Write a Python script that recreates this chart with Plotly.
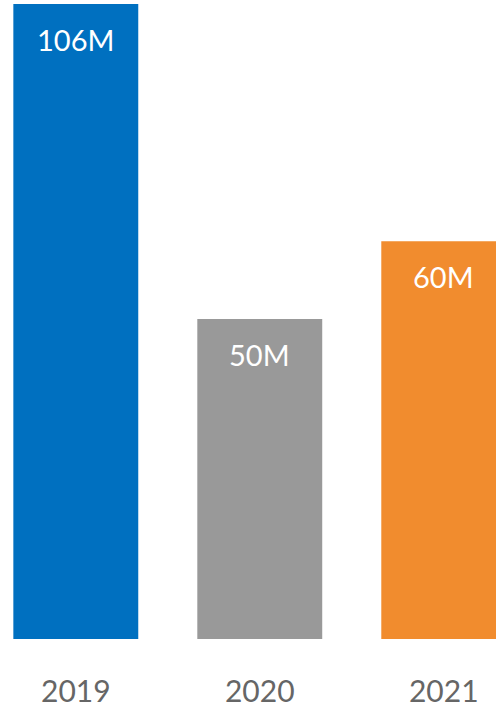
import plotly.graph_objects as go

years = ["2019", "2020", "2021"]
bar_heights = [106, 53.4, 66.4]
bar_labels = ["106M", "50M", "60M"]
bar_colors = ["#0070C0", "#999999", "#F18C2E"]

fig = go.Figure()
fig.add_trace(go.Bar(
    x=years, y=bar_heights,
    marker=dict(color=bar_colors, line=dict(width=0)),
    width=0.679,
    hoverinfo="skip",
))

for i, (h, lab) in enumerate(zip(bar_heights, bar_labels)):
    fig.add_annotation(
        x=i, y=h, xref="x", yref="y", text=lab, showarrow=False,
        yanchor="top", xanchor="center", yshift=-16,
        font=dict(family="Lato", size=29, color="#ffffff"),
    )

fig.update_layout(
    width=496, height=705,
    margin=dict(l=0, r=0, t=0, b=66, autoexpand=False),
    paper_bgcolor="#ffffff", plot_bgcolor="#ffffff",
    showlegend=False,
    font=dict(family="Lato"),
    xaxis=dict(
        type="category", range=[-0.412, 2.284], automargin=False,
        showgrid=False, zeroline=False, showline=False, ticks="",
        tickfont=dict(family="Lato", size=30, color="#666666"),
        ticklabelstandoff=32,
    ),
    yaxis=dict(
        range=[0, 106.67], visible=False, showgrid=False, zeroline=False,
        automargin=False,
    ),
)

fig.write_html(
    "out.html",
    config={"displayModeBar": False},
    post_script="document.body.style.margin='0';document.body.style.overflow='hidden';",
)
